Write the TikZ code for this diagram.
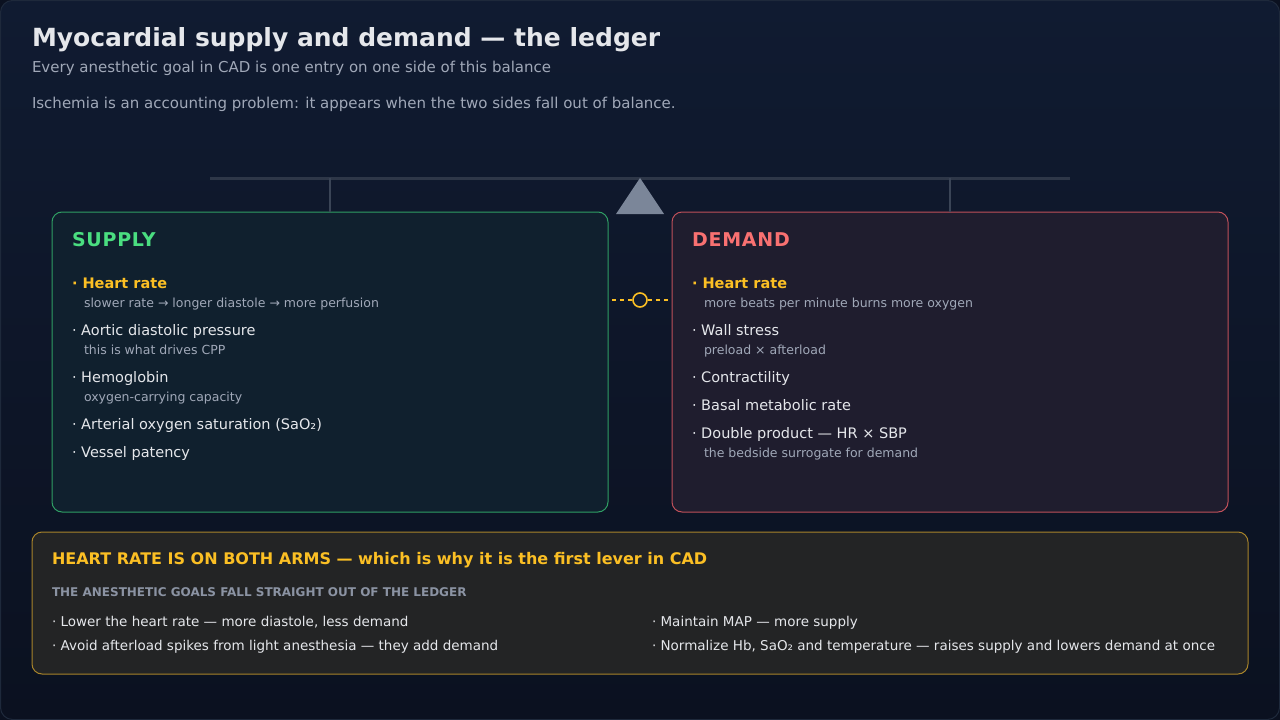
\documentclass[tikz,border=0pt]{standalone}
\usepackage{fontspec}
\setmainfont{DejaVu Sans}
\definecolor{bgtop}{HTML}{101B31}
\definecolor{bgbot}{HTML}{0B1120}
\definecolor{bgedge}{HTML}{1E293B}
\definecolor{supfill}{HTML}{10202E}
\definecolor{supline}{HTML}{2F9E64}
\definecolor{demfill}{HTML}{1F1D2E}
\definecolor{demline}{HTML}{C0505A}
\definecolor{botfill}{HTML}{232425}
\definecolor{botline}{HTML}{A8842A}
\definecolor{maintext}{HTML}{E5E7EB}
\definecolor{subtext}{HTML}{A0A8B8}
\definecolor{amber}{HTML}{FBBF24}
\definecolor{sgreen}{HTML}{4ADE80}
\definecolor{dred}{HTML}{F87171}
\definecolor{beamc}{HTML}{2E3748}
\definecolor{hangc}{HTML}{3A4456}
\definecolor{fulc}{HTML}{7B8699}
\definecolor{capgray}{HTML}{8B93A3}
\begin{document}
\begin{tikzpicture}[x=1pt,y=-1pt,
  txt/.style={anchor=base west,inner sep=0pt,outer sep=0pt},
  titletxt/.style={txt,text=maintext,font=\fontsize{25}{30}\selectfont\bfseries},
  leadtxt/.style={txt,text=subtext,font=\fontsize{15}{18}\selectfont},
  headtxt/.style={txt,font=\fontsize{19}{22}\selectfont\bfseries\addfontfeature{LetterSpace=4}},
  itemtxt/.style={txt,text=maintext,font=\fontsize{14.5}{17}\selectfont},
  hottxt/.style={txt,text=amber,font=\fontsize{14.5}{17}\selectfont\bfseries},
  notetxt/.style={txt,text=subtext,font=\fontsize{12.5}{15}\selectfont},
  bannertxt/.style={txt,text=amber,font=\fontsize{16}{19}\selectfont\bfseries},
  captxt/.style={txt,text=capgray,font=\fontsize{12}{14}\selectfont\bfseries},
  goaltxt/.style={txt,text=maintext,font=\fontsize{13.5}{16}\selectfont},
  panel/.style={rounded corners=10pt,line width=1pt}]
\useasboundingbox (0,0) rectangle (1280,720);
\fill[bgbot] (0,0) rectangle (1280,720);
\shade[top color=bgtop,bottom color=bgbot,rounded corners=12pt,draw=bgedge,line width=1pt] (0.5,0.5) rectangle (1279.5,719.5);

% title
\node[titletxt] (title) at (32,46) {Myocardial supply and demand — the ledger};
\node[leadtxt] (sub1) at (32,72) {Every anesthetic goal in CAD is one entry on one side of this balance};
\node[leadtxt] (sub2) at (32,108) {Ischemia is an accounting problem: it appears when the two sides fall out of balance.};

% balance beam
\coordinate (beamL) at (210,178);
\coordinate (beamR) at (1070,178);
\draw[beamc,line width=3pt] (beamL) -- (beamR);
\coordinate (hangLt) at (330,178);
\coordinate (hangRt) at (950,178);
\fill[fulc] (640,178) -- (664,214) -- (616,214) -- cycle;

% panels
\draw[panel,fill=supfill,draw=supline] (52,212) rectangle (608,512);
\draw[panel,fill=demfill,draw=demline] (672,212) rectangle (1228,512);
\coordinate (hangLb) at (330,212);
\coordinate (hangRb) at (950,212);
\draw[hangc,line width=1.5pt] (hangLt) -- (hangLb);
\draw[hangc,line width=1.5pt] (hangRt) -- (hangRb);

% link
\coordinate (linkL) at (612,300);
\coordinate (linkR) at (668,300);
\node[circle,draw=amber,line width=1.6pt,fill=bgtop,minimum size=14pt,inner sep=0pt] (knot) at (640,300) {};
\draw[amber,line width=1.6pt,dash pattern=on 4pt off 4pt] (linkL) -- (knot.west);
\draw[amber,line width=1.6pt,dash pattern=on 4pt off 4pt] (knot.east) -- (linkR);

% supply
\node[headtxt,text=sgreen] (suph) at (72,246) {SUPPLY};
\node[hottxt] (s1) at (72,288) {· Heart rate};
\node[notetxt] (s1n) at (84,307) {slower rate → longer diastole → more perfusion};
\node[itemtxt] (s2) at (72,335) {· Aortic diastolic pressure};
\node[notetxt] (s2n) at (84,354) {this is what drives CPP};
\node[itemtxt] (s3) at (72,382) {· Hemoglobin};
\node[notetxt] (s3n) at (84,401) {oxygen-carrying capacity};
\node[itemtxt] (s4) at (72,429) {· Arterial oxygen saturation (SaO₂)};
\node[itemtxt] (s5) at (72,457) {· Vessel patency};

% demand
\node[headtxt,text=dred] (demh) at (692,246) {DEMAND};
\node[hottxt] (d1) at (692,288) {· Heart rate};
\node[notetxt] (d1n) at (704,307) {more beats per minute burns more oxygen};
\node[itemtxt] (d2) at (692,335) {· Wall stress};
\node[notetxt] (d2n) at (704,354) {preload × afterload};
\node[itemtxt] (d3) at (692,382) {· Contractility};
\node[itemtxt] (d4) at (692,410) {· Basal metabolic rate};
\node[itemtxt] (d5) at (692,438) {· Double product — HR × SBP};
\node[notetxt] (d5n) at (704,457) {the bedside surrogate for demand};

% bottom banner
\draw[panel,fill=botfill,draw=botline] (32,532) rectangle (1248,674);
\node[bannertxt] (ban) at (52,564) {HEART RATE IS ON BOTH ARMS — which is why it is the first lever in CAD};
\node[captxt] (cap) at (52,596) {THE ANESTHETIC GOALS FALL STRAIGHT OUT OF THE LEDGER};
\node[goaltxt] (g1) at (52,626) {· Lower the heart rate — more diastole, less demand};
\node[goaltxt] (g2) at (52,650) {· Avoid afterload spikes from light anesthesia — they add demand};
\node[goaltxt] (g3) at (652,626) {· Maintain MAP — more supply};
\node[goaltxt] (g4) at (652,650) {· Normalize Hb, SaO₂ and temperature — raises supply and lowers demand at once};
\end{tikzpicture}
\end{document}
